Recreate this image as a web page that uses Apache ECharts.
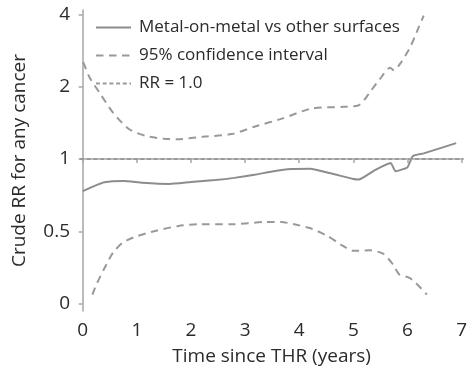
<!DOCTYPE html>
<html>
<head>
<meta charset="utf-8">
<script src="https://cdn.jsdelivr.net/npm/echarts@6/dist/echarts.min.js"></script>
<style>
  html, body { margin: 0; padding: 0; background: #fff; }
  #chart { width: 470px; height: 371px; }
</style>
</head>
<body>
<div id="chart"></div>
<script>
// Crude relative risk for any cancer: metal-on-metal vs other bearing surfaces
const mainTime = [0, 0.2, 0.4, 0.75, 1.1, 1.6, 2.0, 2.45, 2.8, 3.2, 3.5, 3.85, 4.2, 4.6, 5.0, 5.1, 5.4, 5.69, 5.78, 6.0, 6.1, 6.3, 6.9];
const mainRR   = [0.735, 0.77, 0.80, 0.81, 0.797, 0.788, 0.803, 0.818, 0.835, 0.862, 0.888, 0.91, 0.912, 0.87, 0.826, 0.822, 0.90, 0.963, 0.89, 0.925, 1.03, 1.056, 1.165];

const upperTime = [0.01, 0.13, 0.31, 0.56, 0.86, 1.16, 1.5, 1.75, 2.25, 2.75, 3.2, 3.67, 4.22, 4.82, 5.09, 5.21, 5.3, 5.49, 5.68, 5.75, 5.88, 6.06, 6.2, 6.3];
const upperRR   = [2.53, 2.18, 1.89, 1.56, 1.33, 1.25, 1.215, 1.21, 1.24, 1.27, 1.37, 1.47, 1.62, 1.65, 1.67, 1.77, 1.89, 2.15, 2.40, 2.34, 2.52, 2.95, 3.5, 3.95];

const lowerTime = [0.18, 0.25, 0.44, 0.56, 0.74, 0.98, 1.34, 1.77, 2.13, 2.75, 3.37, 3.67, 3.91, 4.22, 4.52, 4.76, 5.0, 5.3, 5.55, 5.73, 5.85, 6.03, 6.15, 6.36];
const lowerRR   = [0.273, 0.30, 0.365, 0.408, 0.449, 0.476, 0.502, 0.527, 0.535, 0.535, 0.547, 0.547, 0.535, 0.514, 0.479, 0.442, 0.415, 0.417, 0.404, 0.365, 0.331, 0.321, 0.306, 0.273];

const referenceRR = 1.0;

// y axis is drawn on a log2 scale; the bottom tick is labelled 0
const yTickPositions = [-2, -1, 0, 1, 2];
const yTickLabels = ['0', '0.5', '1', '2', '4'];
const xTickValues = [0, 1, 2, 3, 4, 5, 6, 7];

const seriesNames = ['Metal-on-metal vs other surfaces', '95% confidence interval', 'RR = 1.0'];

const toLog = (times, rr) => times.map((t, i) => [t, Math.log2(rr[i])]);

const FONT = '"Open Sans", "Noto Sans", sans-serif';
const TEXT = '#2b2b2b';
const AXIS = '#a6a6a6';

const chart = echarts.init(document.getElementById('chart'), null, { renderer: 'canvas' });

chart.setOption({
  animation: false,
  backgroundColor: '#fff',
  grid: { left: 80, right: 0, top: 10, bottom: 60 },
  legend: {
    orient: 'vertical',
    left: 95,
    top: 17.5,
    padding: 0,
    itemWidth: 35,
    itemHeight: 14,
    itemGap: 8,
    itemStyle: { color: 'rgba(0,0,0,0)', borderWidth: 0 },
    textStyle: { fontFamily: FONT, fontSize: 17, color: TEXT, lineHeight: 18, padding: [2, 0, 0, 3] },
    data: seriesNames
  },
  xAxis: {
    type: 'value',
    min: -0.05,
    max: 7.03,
    name: 'Time since THR (years)',
    nameLocation: 'middle',
    nameGap: 36,
    nameTextStyle: { fontFamily: FONT, fontSize: 19, color: TEXT },
    axisLine: { lineStyle: { color: AXIS, width: 1.5 } },
    axisTick: { show: true, length: 4, customValues: xTickValues, lineStyle: { color: AXIS, width: 1.5 } },
    axisLabel: { customValues: xTickValues, margin: 10, fontFamily: FONT, fontSize: 19, color: TEXT },
    splitLine: { show: false }
  },
  yAxis: {
    type: 'value',
    min: -2.1,
    max: 2.06,
    name: 'Crude RR for any cancer',
    nameLocation: 'middle',
    nameGap: 51,
    nameTextStyle: { fontFamily: FONT, fontSize: 19, color: TEXT },
    axisLine: { show: true, lineStyle: { color: AXIS, width: 1.5 } },
    axisTick: { show: true, length: 4, customValues: yTickPositions, lineStyle: { color: AXIS, width: 1.5 } },
    axisLabel: {
      customValues: yTickPositions,
      margin: 10,
      fontFamily: FONT,
      fontSize: 19,
      color: TEXT,
      formatter: v => yTickLabels[yTickPositions.indexOf(Math.round(v))]
    },
    splitLine: { show: false }
  },
  series: [
    {
      name: seriesNames[0],
      type: 'line',
      data: toLog(mainTime, mainRR),
      symbol: 'none',
      smooth: 0.15,
      lineStyle: { color: '#8c8c8c', width: 2 },
      itemStyle: { color: '#8c8c8c' },
      z: 4
    },
    {
      name: seriesNames[1],
      type: 'line',
      data: toLog(upperTime, upperRR),
      symbol: 'none',
      smooth: 0.25,
      lineStyle: { color: '#999', width: 2, type: [7.5, 5.5] },
      itemStyle: { color: '#999' },
      z: 3
    },
    {
      name: seriesNames[1],
      type: 'line',
      data: toLog(lowerTime, lowerRR),
      symbol: 'none',
      smooth: 0.25,
      lineStyle: { color: '#999', width: 2, type: [7.5, 5.5] },
      itemStyle: { color: '#999' },
      z: 3
    },
    {
      name: seriesNames[2],
      type: 'line',
      data: [],
      symbol: 'none',
      lineStyle: { color: '#9a9a9a', width: 1.8, type: [4, 2.7] },
      itemStyle: { color: '#9a9a9a' },
      markLine: {
        silent: true,
        symbol: 'none',
        label: { show: false },
        lineStyle: { color: '#9a9a9a', width: 1.8, type: [4, 2.7] },
        data: [{ yAxis: Math.log2(referenceRR) }]
      },
      z: 2
    }
  ]
});
</script>
</body>
</html>
